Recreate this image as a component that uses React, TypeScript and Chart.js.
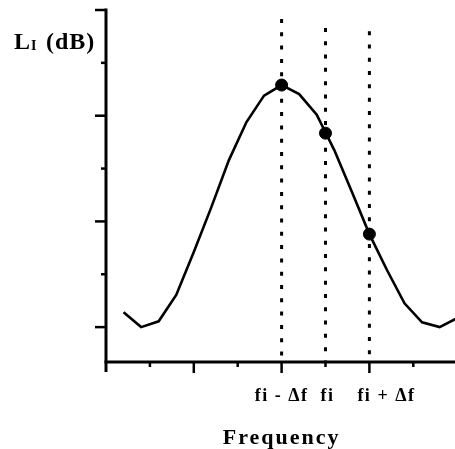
import { useEffect, useRef } from "react";
import { Chart, registerables } from "chart.js";

Chart.register(...registerables);

// Frequency positions (in tick units) and level curve values
const freqX = [0.4, 0.8, 1.2, 1.6, 2.0, 2.4, 2.8, 3.2, 3.6, 4.0, 4.4, 4.8, 5.2, 5.6, 6.0, 6.4, 6.8, 7.2, 7.6, 8.0];
const levelY = [0.28, 0.0, 0.11, 0.61, 1.42, 2.27, 3.16, 3.88, 4.38, 4.58, 4.41, 4.02, 3.35, 2.56, 1.76, 1.08, 0.45, 0.09, 0.0, 0.17];

// Marked points: fi - Δf, fi, fi + Δf
const markerX = [4, 5, 6];
const markerY = [4.58, 3.67, 1.76];

// Dotted guide lines (top value of each)
const guideX = [4, 5, 6];
const guideTop = [5.83, 5.66, 5.6];

// Axis ticks and labels
const yTicks = [0, 1, 2, 3, 4, 5, 6];
const xTicks = [1, 2, 3, 4, 5, 6, 7, 8];
const xLabelValues = [4, 5, 6];
const xLabels = ["fi - Δf", "fi", "fi + Δf"];
const xTitle = "Frequency";
const yTitleMain = "L";
const yTitleSub = "I";
const yTitleUnit = "(dB)";

const Y_MIN = -0.66;
const Y_MAX = 6;
const X_MIN = 0;
const X_MAX = 7.95;

const SERIF = "'Liberation Serif', 'Times New Roman', serif";

const decorPlugin = {
  id: "decor",
  afterDatasetsDraw(chart: any) {
    const { ctx, scales } = chart;
    const xs = scales.x;
    const ys = scales.y;
    const x0 = xs.getPixelForValue(X_MIN);
    const yAxis = ys.getPixelForValue(Y_MIN);
    const yTop = ys.getPixelForValue(Y_MAX);
    ctx.save();
    ctx.strokeStyle = "#000";
    ctx.fillStyle = "#000";
    ctx.lineCap = "butt";

    // axes lines
    ctx.lineWidth = 3;
    ctx.beginPath();
    ctx.moveTo(x0, yTop - 1.5);
    ctx.lineTo(x0, yAxis + 10);
    ctx.stroke();
    ctx.beginPath();
    ctx.moveTo(x0 - 1.5, yAxis);
    ctx.lineTo(chart.width, yAxis);
    ctx.stroke();

    // y ticks
    ctx.lineWidth = 2.5;
    for (const v of yTicks) {
      const len = v % 2 === 0 ? 11 : 5;
      const py = ys.getPixelForValue(v);
      ctx.beginPath();
      ctx.moveTo(x0, py);
      ctx.lineTo(x0 - len, py);
      ctx.stroke();
    }
    // x ticks
    for (const v of xTicks) {
      const len = v % 2 === 0 ? 11 : 5;
      const px = xs.getPixelForValue(v);
      ctx.beginPath();
      ctx.moveTo(px, yAxis);
      ctx.lineTo(px, yAxis + len);
      ctx.stroke();
    }

    // x tick labels
    ctx.font = `bold 18px ${SERIF}`;
    (ctx as any).letterSpacing = "1.5px";
    ctx.textAlign = "center";
    ctx.textBaseline = "alphabetic";
    const labelShift = [0, 2, 17];
    xLabelValues.forEach((v, i) => {
      ctx.fillText(xLabels[i], xs.getPixelForValue(v) + labelShift[i], yAxis + 39);
    });

    // x title
    ctx.font = `bold 22px ${SERIF}`;
    (ctx as any).letterSpacing = "2px";
    ctx.fillText(xTitle, xs.getPixelForValue(4), yAxis + 82);

    // y title
    ctx.textAlign = "left";
    ctx.font = `bold 24px ${SERIF}`;
    (ctx as any).letterSpacing = "1px";
    ctx.fillText(yTitleMain, x0 - 92, yTop + 39);
    ctx.font = `bold 14px ${SERIF}`;
    (ctx as any).letterSpacing = "0px";
    ctx.fillText(yTitleSub, x0 - 75, yTop + 40);
    ctx.font = `bold 24px ${SERIF}`;
    (ctx as any).letterSpacing = "1px";
    ctx.fillText(yTitleUnit, x0 - 60, yTop + 39);

    ctx.restore();
  },
};

export default function App() {
  const ref = useRef<HTMLCanvasElement>(null);
  useEffect(() => {
    document.body.style.margin = "0";
    const guideSets = guideX.map((gx, i) => ({
      type: "line" as const,
      data: [
        { x: gx, y: guideTop[i] },
        { x: gx, y: Y_MIN },
      ],
      borderColor: "#000",
      borderWidth: 3,
      borderDash: [4, 9.3],
      borderCapStyle: "butt" as const,
      pointRadius: 0,
      order: 3,
    }));
    const chart = new Chart(ref.current!, {
      type: "line",
      data: {
        datasets: [
          ...guideSets,
          {
            type: "line",
            data: freqX.map((x, i) => ({ x, y: levelY[i] })),
            borderColor: "#000",
            borderWidth: 2.6,
            pointRadius: 0,
            tension: 0,
            order: 2,
          },
          {
            type: "scatter",
            data: markerX.map((x, i) => ({ x, y: markerY[i] })),
            backgroundColor: "#000",
            borderColor: "#000",
            pointRadius: 6,
            showLine: false,
            order: 1,
          },
        ] as any,
      },
      options: {
        animation: false,
        responsive: false,
        layout: { autoPadding: false, padding: { left: 106, top: 10, right: 0, bottom: 87 } },
        plugins: { legend: { display: false }, tooltip: { enabled: false } },
        scales: {
          x: { type: "linear", min: X_MIN, max: X_MAX, display: false },
          y: { type: "linear", min: Y_MIN, max: Y_MAX, display: false },
        },
      },
      plugins: [decorPlugin],
    });
    return () => chart.destroy();
  }, []);
  return (
    <div style={{ width: 455, height: 449 }}>
      <canvas ref={ref} width={455} height={449} style={{ display: "block" }} />
    </div>
  );
}
